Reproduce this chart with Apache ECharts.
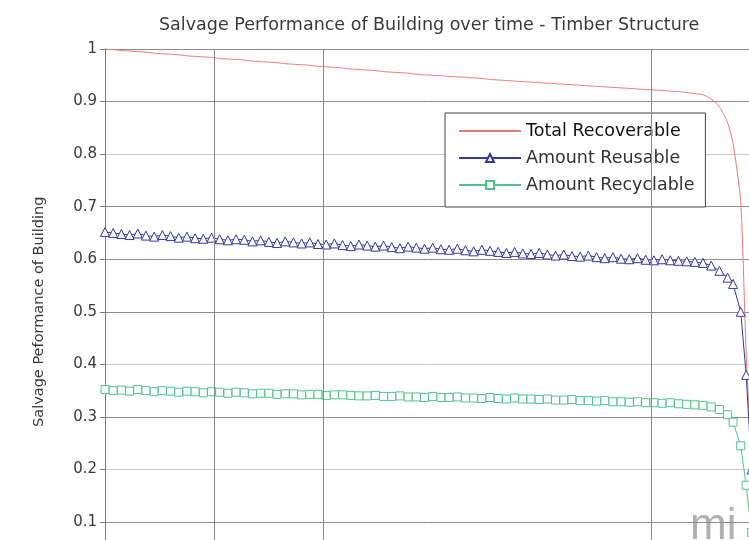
<!DOCTYPE html>
<html>
<head>
<meta charset="utf-8">
<script src="https://cdn.jsdelivr.net/npm/echarts@6/dist/echarts.min.js"></script>
<style>
  html, body { margin: 0; padding: 0; background: #fff; }
  #chart { width: 749px; height: 540px; }
</style>
</head>
<body>
<div id="chart"></div>
<script>
// Time in years since construction
const years = [
  0, 0.75, 1.5, 2.25, 3, 3.75, 4.5, 5.25, 6, 6.75,
  7.5, 8.25, 9, 9.75, 10.5, 11.25, 12, 12.75, 13.5, 14.25,
  15, 15.75, 16.5, 17.25, 18, 18.75, 19.5, 20.25, 21, 21.75,
  22.5, 23.25, 24, 24.75, 25.5, 26.25, 27, 27.75, 28.5, 29.25,
  30, 30.75, 31.5, 32.25, 33, 33.75, 34.5, 35.25, 36, 36.75,
  37.5, 38.25, 39, 39.75, 40.5, 41.25, 42, 42.75, 43.5, 44.25,
  45, 45.75, 46.5, 47.25, 48, 48.75, 49.5, 50.25, 51, 51.75,
  52.5, 53.25, 54, 54.75,
  55.5, 56.25, 57, 57.5, 58.2, 58.7, 59.2, 60
];

const totalRecoverable = [
  1.000, 0.999, 0.997, 0.996, 0.995, 0.994, 0.992, 0.991, 0.990, 0.989,
  0.987, 0.986, 0.985, 0.984, 0.982, 0.981, 0.980, 0.979, 0.977, 0.976,
  0.975, 0.974, 0.972, 0.971, 0.970, 0.969, 0.967, 0.966, 0.965, 0.964,
  0.962, 0.961, 0.960, 0.959, 0.957, 0.956, 0.955, 0.954, 0.952, 0.951,
  0.950, 0.949, 0.948, 0.947, 0.946, 0.945, 0.944, 0.942, 0.941, 0.940,
  0.939, 0.938, 0.937, 0.936, 0.935, 0.934, 0.933, 0.932, 0.931, 0.930,
  0.929, 0.928, 0.927, 0.926, 0.925, 0.924, 0.923, 0.922, 0.921, 0.920,
  0.919, 0.917, 0.915, 0.913,
  0.905, 0.890, 0.860, 0.820, 0.710, 0.420, 0.220, 0.000
];

const amountReusable = [
  0.652, 0.650, 0.648, 0.646, 0.649, 0.645, 0.643, 0.646, 0.644, 0.641,
  0.643, 0.640, 0.639, 0.641, 0.638, 0.636, 0.638, 0.637, 0.634, 0.636,
  0.633, 0.631, 0.634, 0.632, 0.630, 0.632, 0.629, 0.628, 0.630, 0.627,
  0.625, 0.628, 0.626, 0.624, 0.626, 0.623, 0.621, 0.624, 0.622, 0.620,
  0.622, 0.619, 0.618, 0.620, 0.617, 0.615, 0.618, 0.616, 0.614, 0.612,
  0.614, 0.611, 0.610, 0.612, 0.609, 0.607, 0.609, 0.606, 0.605, 0.607,
  0.604, 0.602, 0.604, 0.601, 0.600, 0.602, 0.599, 0.598, 0.600, 0.598,
  0.597, 0.596, 0.595, 0.593,
  0.588, 0.578, 0.565, 0.553, 0.500, 0.380, 0.200, 0.000
];

const amountRecyclable = [
  0.352, 0.350, 0.351, 0.349, 0.352, 0.350, 0.348, 0.350, 0.349, 0.347,
  0.349, 0.348, 0.346, 0.348, 0.347, 0.345, 0.347, 0.346, 0.344, 0.345,
  0.345, 0.343, 0.344, 0.344, 0.342, 0.343, 0.343, 0.341, 0.342, 0.342,
  0.341, 0.340, 0.340, 0.341, 0.339, 0.339, 0.340, 0.338, 0.338, 0.337,
  0.339, 0.337, 0.337, 0.338, 0.336, 0.336, 0.335, 0.337, 0.335, 0.334,
  0.336, 0.334, 0.334, 0.333, 0.334, 0.332, 0.332, 0.333, 0.331, 0.331,
  0.330, 0.331, 0.329, 0.329, 0.328, 0.329, 0.327, 0.327, 0.326, 0.327,
  0.325, 0.324, 0.323, 0.322,
  0.319, 0.314, 0.304, 0.290, 0.245, 0.170, 0.080, 0.000
];

// Years that carry a vertical grid line
const gridYears = [10, 20, 50];

const seriesNames = ['Total Recoverable', 'Amount Reusable', 'Amount Recyclable'];

const pair = (vals) => years.map((y, i) => [y, vals[i]]);

const FONT = 'DejaVu Sans';

// Horizontal grid colours per 0.1 step (0 .. 1)
const hLineColors = ['#999', '#8c8c8c', '#c8c8c8', '#8c8c8c', '#c8c8c8', '#8c8c8c',
                     '#8c8c8c', '#8c8c8c', '#c8c8c8', '#8c8c8c', '#8c8c8c'];

const chart = echarts.init(document.getElementById('chart'), null, { renderer: 'canvas' });

chart.setOption({
  backgroundColor: '#ffffff',
  animation: false,
  title: {
    text: 'Salvage Performance of Building over time - Timber Structure',
    left: 159,
    top: 16,
    padding: 0,
    textStyle: { fontFamily: FONT, fontSize: 17.5, fontWeight: 'normal', color: '#3a3a3a' }
  },
  legend: {
    orient: 'vertical',
    left: 445,
    top: 113,
    padding: [9, 11, 13, 13],
    itemWidth: 62,
    itemHeight: 10,
    itemGap: 9,
    backgroundColor: '#ffffff',
    borderColor: '#444',
    borderWidth: 1,
    borderRadius: 0,
    textStyle: { fontFamily: FONT, fontSize: 17.5, color: '#333' },
    data: [
      { name: seriesNames[0], textStyle: { color: '#111' }, itemStyle: { opacity: 0 } },
      { name: seriesNames[1] },
      { name: seriesNames[2] }
    ]
  },
  // The plot area runs past the right and bottom edges of the canvas
  grid: { left: 105, top: 49, width: 710, height: 525.6, containLabel: false, outerBoundsMode: 'none' },
  xAxis: {
    type: 'value',
    min: 0,
    max: 65,
    axisLine: { show: false },
    axisTick: { show: false },
    axisLabel: { show: false },
    splitLine: { show: false }
  },
  yAxis: {
    type: 'value',
    min: 0,
    max: 1,
    interval: 0.1,
    name: 'Salvage Peformance of Building',
    nameLocation: 'middle',
    nameGap: 58,
    nameTextStyle: { fontFamily: FONT, fontSize: 14.5, color: '#3a3a3a' },
    axisLine: { show: true, lineStyle: { color: '#7a7a7a', width: 1 } },
    axisTick: { show: true, length: 5, lineStyle: { color: '#7a7a7a' } },
    axisLabel: {
      fontFamily: FONT,
      fontSize: 15,
      color: '#3a3a3a',
      margin: 8,
      formatter: (v) => (v === 0 ? '' : (Math.abs(v - 1) < 1e-9 ? '1' : v.toFixed(1)))
    },
    splitLine: { show: true, lineStyle: { color: hLineColors, width: 1 } }
  },
  series: [
    {
      name: 'grid-years',
      type: 'line',
      data: [],
      z: 1,
      silent: true,
      markLine: {
        silent: true,
        symbol: ['none', 'none'],
        label: { show: false },
        lineStyle: { color: '#888', width: 1, type: 'solid' },
        data: gridYears.map((y) => ({ xAxis: y }))
      }
    },
    {
      name: seriesNames[0],
      type: 'line',
      z: 3,
      data: pair(totalRecoverable),
      showSymbol: false,
      symbol: 'none',
      smooth: 0.2,
      lineStyle: { color: '#ea7a76', width: 1 },
      itemStyle: { color: '#ea7a76' }
    },
    {
      name: seriesNames[1],
      type: 'line',
      z: 4,
      data: pair(amountReusable),
      symbol: 'triangle',
      symbolSize: 9,
      showAllSymbol: true,
      lineStyle: { color: '#34399a', width: 1 },
      itemStyle: { color: '#ffffff', borderColor: '#34399a', borderWidth: 1 }
    },
    {
      name: seriesNames[2],
      type: 'line',
      z: 4,
      data: pair(amountRecyclable),
      symbol: 'rect',
      symbolSize: [8, 8],
      showAllSymbol: true,
      lineStyle: { color: '#4fc48a', width: 1 },
      itemStyle: { color: '#ffffff', borderColor: '#4fc48a', borderWidth: 1 }
    }
  ],
  graphic: [
    {
      type: 'text',
      left: 690,
      top: 505,
      silent: true,
      style: { text: 'mi', font: '44px "Liberation Sans", sans-serif', fill: '#b0b0b0' }
    }
  ]
});
</script>
</body>
</html>
